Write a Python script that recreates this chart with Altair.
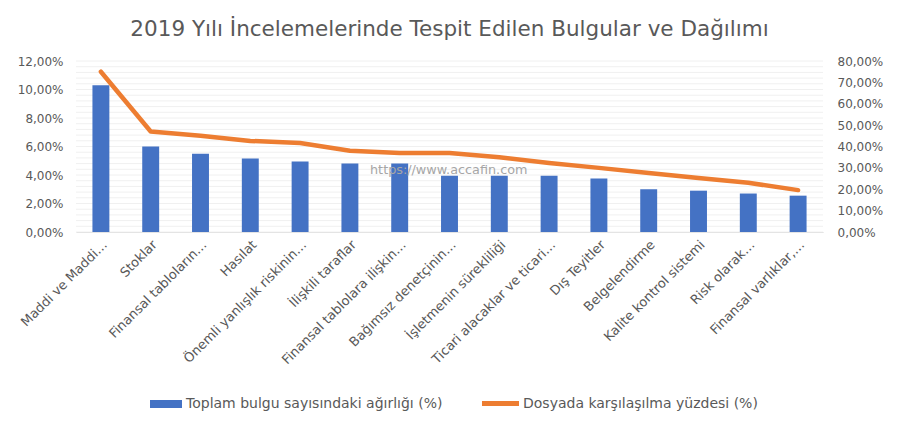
import altair as alt
import pandas as pd

categories = [
    "Maddi ve Maddi…", "Stoklar", "Finansal tabloların…", "Hasılat",
    "Önemli yanlışlık riskinin…", "İlişkili taraflar", "Finansal tablolara ilişkin…",
    "Bağımsız denetçinin…", "İşletmenin sürekliliği", "Ticari alacaklar ve ticari…",
    "Dış Teyitler", "Belgelendirme", "Kalite kontrol sistemi", "Risk olarak…",
    "Finansal varlıklar,…",
]
weight = [10.3, 6.0, 5.5, 5.15, 4.95, 4.8, 4.8, 3.95, 3.95, 3.95, 3.75, 3.0, 2.9, 2.7, 2.55]
encounter = [75.0, 47.0, 45.0, 42.6, 41.6, 38.0, 37.0, 37.0, 35.0, 32.3, 30.0, 27.6, 25.3, 23.0, 19.6]

s_bar = "Toplam bulgu sayısındaki ağırlığı (%)"
s_line = "Dosyada karşılaşılma yüzdesi (%)"

df = pd.DataFrame({"cat": categories, "weight": weight, "enc": encounter,
                   "s_bar": s_bar, "s_line": s_line})

FONT = "DejaVu Sans"
TXT = "#595959"
fmt = "replace(format(datum.value, '.2f'), '.', ',') + '%'"

x = alt.X("cat:N", sort=None, title=None,
          scale=alt.Scale(paddingInner=0.66, paddingOuter=0.33),
          axis=alt.Axis(labelAngle=-45, labelAlign="right", labelBaseline="top",
                        labelFontSize=13, labelColor=TXT, labelFont=FONT,
                        ticks=False, domainColor="#D9D9D9", labelPadding=6,
                        labelLimit=250))

minor = alt.Chart(pd.DataFrame({"v": [i * 0.4 for i in range(31)]})).mark_rule(
    color="#F0F0F0", strokeWidth=1).encode(
    y=alt.Y("v:Q", scale=alt.Scale(domain=[0, 12]), axis=None))

bars = alt.Chart(df).mark_bar(color="#4472C4").encode(
    x=x,
    y=alt.Y("weight:Q", title=None,
            scale=alt.Scale(domain=[0, 12], nice=False),
            axis=alt.Axis(values=[0, 2, 4, 6, 8, 10, 12], labelExpr=fmt,
                          labelFontSize=12, labelColor=TXT, labelFont=FONT,
                          ticks=False, domain=False, gridColor="#D9D9D9",
                          labelPadding=13, minExtent=60, maxExtent=60)),
    color=alt.Color("s_bar:N", scale=alt.Scale(range=["#4472C4"]),
                    legend=alt.Legend(title=None, orient="none", legendX=82, legendY=335,
                                      symbolType="M-2,-0.5H2V0.5H-2Z",
                                      symbolSize=256, labelFontSize=14, labelOffset=12,
                                      labelColor=TXT, labelFont=FONT, labelLimit=400,
                                      symbolStrokeWidth=0)),
)

line = alt.Chart(df).mark_line(strokeWidth=4.5, strokeCap="round",
                               strokeJoin="round").encode(
    x=x,
    y=alt.Y("enc:Q", title=None,
            scale=alt.Scale(domain=[0, 80], nice=False),
            axis=alt.Axis(orient="right", values=[0, 10, 20, 30, 40, 50, 60, 70, 80],
                          labelExpr=fmt, labelFontSize=12, labelColor=TXT,
                          labelFont=FONT, ticks=False, domain=False, grid=False,
                          labelPadding=14, minExtent=60, maxExtent=60)),
    stroke=alt.Stroke("s_line:N", scale=alt.Scale(range=["#ED7D31"]),
                      legend=alt.Legend(title=None, orient="none", legendX=403, legendY=321,
                                        symbolType="stroke", symbolSize=1370,
                                        symbolStrokeWidth=5, labelFontSize=14, labelOffset=1,
                                        labelColor=TXT, labelFont=FONT, labelLimit=400)),
)

wm = alt.Chart(pd.DataFrame({"t": ["https://www.accafin.com"]})).mark_text(
    font=FONT, fontSize=12.8, color="#A6A6A6", align="left", baseline="middle"
).encode(text="t:N", x=alt.value(294), y=alt.value(109))

chart = alt.layer(minor, bars, wm, line).resolve_scale(
    y="independent", color="independent", stroke="independent"
).properties(
    width=747, height=171,
    title=alt.TitleParams("2019 Yılı İncelemelerinde Tespit Edilen Bulgular ve Dağılımı",
                          font=FONT, fontSize=21.5, fontWeight="normal", color=TXT,
                          anchor="middle", offset=15),
    padding={"left": 8, "right": 4, "top": 10, "bottom": 4},
).configure_view(stroke=None)

chart.save("out.html", embed_options={"renderer": "svg", "actions": False})
